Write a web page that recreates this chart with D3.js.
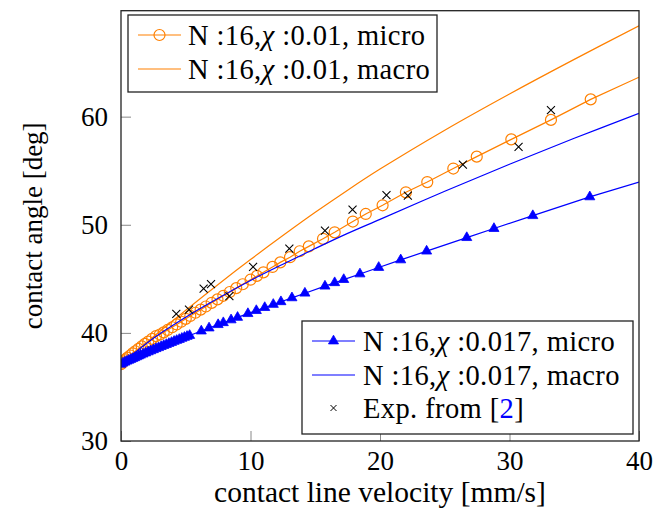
<!DOCTYPE html>
<html>
<head>
<meta charset="utf-8">
<script src="https://cdn.jsdelivr.net/npm/d3@7"></script>
<style>
  html, body { margin: 0; padding: 0; background: #fff; }
  svg { display: block; }
  text { font-family: "Liberation Serif", "DejaVu Serif", serif; fill: #000; }
</style>
</head>
<body>
<svg id="chart" width="655" height="517"></svg>
<script>
// ---- data -------------------------------------------------------------
const xTicks = [0, 10, 20, 30, 40];
const yTicks = [30, 40, 50, 60];

// N=16, chi=0.01, micro (simulation points, circles)
const orangeMicroV = [0, 0.1, 0.2, 0.35, 0.5, 0.7, 0.9, 1.1, 1.35, 1.6, 1.85, 2.1, 2.4, 2.7,
  3.0, 3.3, 3.6, 3.95, 4.3, 4.65, 5.0, 5.35, 5.75, 6.15, 6.55, 7.0, 7.45, 7.9, 8.4, 8.9,
  9.4, 10.0, 10.5, 11.0, 11.7, 12.3, 13.05, 13.8, 14.5, 15.6, 16.5, 17.9, 18.9, 20.2,
  22.0, 23.65, 25.66, 27.47, 30.14, 33.2, 36.27];
const orangeMicroAngle = [37.1, 37.25, 37.37, 37.55, 37.71, 37.91, 38.11, 38.3, 38.53, 38.75,
  38.98, 39.19, 39.45, 39.7, 39.85, 40.05, 40.27, 40.52, 40.78, 41.03, 41.3, 41.57, 41.86,
  42.15, 42.44, 42.78, 43.1, 43.43, 43.78, 44.14, 44.5, 44.92, 45.27, 45.6, 46.1, 46.52,
  47.0, 47.55, 48.0, 48.7, 49.3, 50.3, 51.0, 51.8, 53.0, 53.95, 55.2, 56.3, 57.9, 59.7, 61.6];
const orangeMicroEnd = { v: 40, angle: 63.65 };

// N=16, chi=0.01, macro (line)
const orangeMacroV = [0, 2.5, 5, 7.5, 10, 12.5, 15, 17.5, 20, 25, 30, 35, 40];
const orangeMacroAngle = [37.1, 39.65, 42.1, 44.48, 46.78, 49.0, 51.15, 53.2, 55.15, 58.75, 62.1, 65.3, 68.4];

// N=16, chi=0.017, micro (simulation points, triangles)
const blueMicroV = [0, 0.15, 0.3, 0.45, 0.6, 0.75, 0.9, 1.05, 1.2, 1.35, 1.5, 1.7, 1.9, 2.1,
  2.3, 2.5, 2.7, 2.9, 3.1, 3.3, 3.5, 3.7, 3.9, 4.1, 4.3, 4.5, 4.7, 4.9, 5.1, 5.3, 6.2, 6.8,
  7.5, 7.9, 8.5, 9.0, 9.8, 10.45, 11.1, 11.76, 12.35, 13.2, 14.2, 15.75, 16.5, 17.2, 18.45,
  19.9, 21.6, 23.6, 26.7, 28.8, 31.8, 36.2];
const blueMicroAngle = [37.1, 37.2, 37.29, 37.38, 37.46, 37.54, 37.62, 37.7, 37.78, 37.86,
  37.94, 38.04, 38.14, 38.24, 38.34, 38.44, 38.54, 38.63, 38.73, 38.83, 38.92, 39.02, 39.11,
  39.21, 39.3, 39.39, 39.49, 39.58, 39.67, 39.76, 40.17, 40.45, 40.76, 40.94, 41.2, 41.43,
  41.78, 42.06, 42.34, 42.63, 42.88, 43.24, 43.67, 44.32, 44.64, 44.93, 45.45, 46.05, 46.75,
  47.56, 48.81, 49.65, 50.84, 52.58];
const blueMicroEnd = { v: 40, angle: 53.95 };

// N=16, chi=0.017, macro (line)
const blueMacroV = [0, 2.5, 5, 7.5, 10, 12.5, 15, 17.5, 20, 25, 30, 35, 40];
const blueMacroAngle = [37.1, 39.5, 41.45, 43.2, 44.85, 46.35, 47.8, 49.2, 50.5, 53.1, 55.6, 58.0, 60.3];

// Experimental data
const expV = [4.27, 5.25, 6.38, 6.95, 8.37, 10.2, 13.0, 15.75, 17.88, 20.5, 22.15, 26.4, 30.7, 33.2];
const expAngle = [41.75, 42.15, 44.1, 44.5, 43.4, 46.1, 47.8, 49.45, 51.4, 52.75, 52.7, 55.57, 57.2, 60.6];

// ---- layout -----------------------------------------------------------
const ORANGE = "#ff8000";
const BLUE = "#0000ff";
const TICK_FONT = 27;
const XLABEL_FONT = 29.5;
const YLABEL_FONT = 27;
const LEGEND_FONT = 28.5;

const svg = d3.select("#chart");
const plot = { left: 121, right: 639, top: 10.7, bottom: 441 };

const x = d3.scaleLinear().domain([0, 40]).range([plot.left, plot.right]);
const y = d3.scaleLinear().domain([30, 69.8]).range([plot.bottom, plot.top]);

const zip = (xs, ys) => xs.map((v, i) => [v, ys[i]]);
const line = d3.line().x(d => x(d[0])).y(d => y(d[1]));
const smoothLine = d3.line().curve(d3.curveCatmullRom.alpha(0.5)).x(d => x(d[0])).y(d => y(d[1]));

svg.append("defs").append("clipPath").attr("id", "plot-clip")
  .append("rect")
  .attr("x", plot.left).attr("y", plot.top)
  .attr("width", plot.right - plot.left).attr("height", plot.bottom - plot.top);

// axes (inward ticks on left and bottom only)
const xAxis = svg.append("g")
  .attr("transform", `translate(0,${plot.bottom})`)
  .call(d3.axisBottom(x).tickValues(xTicks).tickSize(-10).tickPadding(10).tickFormat(d3.format("d")));
const yAxis = svg.append("g")
  .attr("transform", `translate(${plot.left},0)`)
  .call(d3.axisLeft(y).tickValues(yTicks).tickSize(-10).tickPadding(13).tickFormat(d3.format("d")));
[xAxis, yAxis].forEach(g => {
  g.select(".domain").remove();
  g.selectAll(".tick line").attr("stroke", "#888").attr("stroke-width", 1);
  g.selectAll(".tick text").attr("font-size", TICK_FONT)
    .attr("font-family", "Liberation Serif, serif").attr("fill", "#000");
});

// series
const layer = svg.append("g").attr("clip-path", "url(#plot-clip)");

const orangeMicro = zip(orangeMicroV, orangeMicroAngle);
const blueMicro = zip(blueMicroV, blueMicroAngle);

layer.append("path")
  .datum(orangeMicro.concat([[orangeMicroEnd.v, orangeMicroEnd.angle]]))
  .attr("d", line).attr("fill", "none").attr("stroke", ORANGE).attr("stroke-width", 1.2);
layer.append("g").selectAll("circle").data(orangeMicro).join("circle")
  .attr("cx", d => x(d[0])).attr("cy", d => y(d[1])).attr("r", 5.5)
  .attr("fill", "none").attr("stroke", ORANGE).attr("stroke-width", 1.2);

layer.append("path")
  .datum(zip(orangeMacroV, orangeMacroAngle))
  .attr("d", smoothLine)
  .attr("fill", "none").attr("stroke", ORANGE).attr("stroke-width", 1.2);

const triangle = d3.symbol().type(d3.symbolTriangle).size(44);
layer.append("path")
  .datum(blueMicro.concat([[blueMicroEnd.v, blueMicroEnd.angle]]))
  .attr("d", line).attr("fill", "none").attr("stroke", BLUE).attr("stroke-width", 1.2);
layer.append("g").selectAll("path").data(blueMicro).join("path")
  .attr("transform", d => `translate(${x(d[0])},${y(d[1])})`)
  .attr("d", triangle).attr("fill", BLUE).attr("stroke", BLUE).attr("stroke-width", 0.8);

layer.append("path")
  .datum(zip(blueMacroV, blueMacroAngle))
  .attr("d", smoothLine)
  .attr("fill", "none").attr("stroke", BLUE).attr("stroke-width", 1.2);

const crossPath = "M-4,-4L4,4M-4,4L4,-4";
layer.append("g").selectAll("path").data(zip(expV, expAngle)).join("path")
  .attr("transform", d => `translate(${x(d[0])},${y(d[1])})`)
  .attr("d", crossPath).attr("fill", "none").attr("stroke", "#000").attr("stroke-width", 1.1);

// frame
svg.append("rect")
  .attr("x", plot.left).attr("y", plot.top)
  .attr("width", plot.right - plot.left).attr("height", plot.bottom - plot.top)
  .attr("fill", "none").attr("stroke", "#222").attr("stroke-width", 1.3);

// axis titles
svg.append("text")
  .attr("x", (plot.left + plot.right) / 2).attr("y", 502)
  .attr("text-anchor", "middle").attr("font-size", XLABEL_FONT)
  .text("contact line velocity [mm/s]");
svg.append("text")
  .attr("transform", `translate(42,${(plot.top + plot.bottom) / 2}) rotate(-90)`)
  .attr("text-anchor", "middle").attr("font-size", YLABEL_FONT)
  .text("contact angle [deg]");

// legends
function legendLabel(g, tx, ty, parts) {
  const t = g.append("text").attr("x", tx).attr("y", ty).attr("font-size", LEGEND_FONT)
    .attr("dominant-baseline", "central").attr("letter-spacing", 0.4);
  parts.forEach(p => {
    const s = t.append("tspan").text(p.text);
    if (p.italic) s.attr("font-style", "italic");
    if (p.color) s.style("fill", p.color);
  });
}
function sampleLine(g, x0, x1, yy, color) {
  g.append("line").attr("x1", x0).attr("x2", x1).attr("y1", yy).attr("y2", yy)
    .attr("stroke", color).attr("stroke-width", 1.2);
}

const legendTop = svg.append("g");
legendTop.append("rect").attr("x", 128).attr("y", 15).attr("width", 309).attr("height", 77)
  .attr("fill", "#fff").attr("stroke", "#222").attr("stroke-width", 1.3);
sampleLine(legendTop, 138, 181, 35, ORANGE);
legendTop.append("circle").attr("cx", 159.5).attr("cy", 35).attr("r", 5.5)
  .attr("fill", "none").attr("stroke", ORANGE).attr("stroke-width", 1.2);
legendLabel(legendTop, 188, 35, [{ text: "N :16," }, { text: "χ", italic: true }, { text: " :0.01, micro" }]);
sampleLine(legendTop, 138, 181, 69, ORANGE);
legendLabel(legendTop, 188, 69, [{ text: "N :16," }, { text: "χ", italic: true }, { text: " :0.01, macro" }]);

const legendBottom = svg.append("g");
legendBottom.append("rect").attr("x", 302).attr("y", 321).attr("width", 331).attr("height", 113)
  .attr("fill", "#fff").attr("stroke", "#222").attr("stroke-width", 1.3);
sampleLine(legendBottom, 312, 355, 341, BLUE);
legendBottom.append("path").attr("transform", "translate(333.5,341)").attr("d", triangle)
  .attr("fill", BLUE).attr("stroke", BLUE).attr("stroke-width", 0.8);
legendLabel(legendBottom, 363, 341, [{ text: "N :16," }, { text: "χ", italic: true }, { text: " :0.017, micro" }]);
sampleLine(legendBottom, 312, 355, 375, BLUE);
legendLabel(legendBottom, 363, 375, [{ text: "N :16," }, { text: "χ", italic: true }, { text: " :0.017, macro" }]);
legendBottom.append("path").attr("transform", "translate(333.5,408)").attr("d", "M-3,-3L3,3M-3,3L3,-3")
  .attr("fill", "none").attr("stroke", "#000").attr("stroke-width", 1);
legendLabel(legendBottom, 363, 408, [{ text: "Exp. from [" }, { text: "2", color: BLUE }, { text: "]" }]);
</script>
</body>
</html>
